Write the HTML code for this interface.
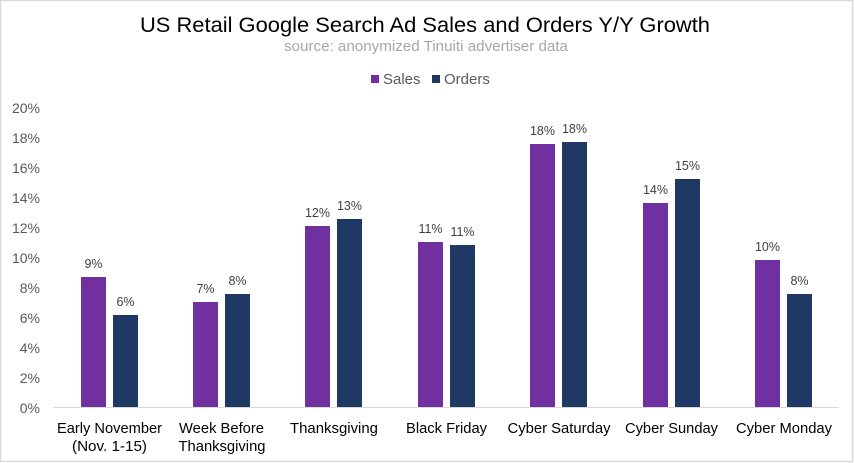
<!DOCTYPE html>
<html><head><meta charset="utf-8"><style>
html,body{margin:0;padding:0;background:#fff;}
svg{display:block;}
text{font-family:"Liberation Sans",Arial,sans-serif;}
</style></head><body>
<svg width="855" height="463" viewBox="0 0 855 463" xmlns="http://www.w3.org/2000/svg">
<rect x="0" y="0" width="855" height="463" fill="#fff"/>
<rect x="0.5" y="0.5" width="852" height="461" fill="#fff" stroke="#d9d9d9" stroke-width="1.5"/>
<text x="425" y="32" text-anchor="middle" font-size="21" fill="#000" textLength="570" lengthAdjust="spacingAndGlyphs">US Retail Google Search Ad Sales and Orders Y/Y Growth</text>
<text x="426" y="51" text-anchor="middle" font-size="14.5" fill="#a6a6a6" textLength="284" lengthAdjust="spacingAndGlyphs">source: anonymized Tinuiti advertiser data</text>
<rect x="371" y="75" width="8" height="8" fill="#7030a0"/>
<text x="383" y="84" font-size="15" fill="#595959">Sales</text>
<rect x="432" y="75" width="8" height="8" fill="#1f3864"/>
<text x="444" y="84" font-size="15" fill="#595959">Orders</text>
<g font-size="14" fill="#595959" text-anchor="end">
<text x="40" y="113">20%</text>
<text x="40" y="143">18%</text>
<text x="40" y="173">16%</text>
<text x="40" y="203">14%</text>
<text x="40" y="233">12%</text>
<text x="40" y="263">10%</text>
<text x="40" y="293">8%</text>
<text x="40" y="323">6%</text>
<text x="40" y="353">4%</text>
<text x="40" y="383">2%</text>
<text x="40" y="413">0%</text>
</g>
<line x1="53" y1="407.5" x2="839" y2="407.5" stroke="#d9d9d9" stroke-width="1"/>
<g>
<rect x="81" y="277" width="25" height="130" fill="#7030a0"/>
<rect x="113" y="315" width="25" height="92" fill="#1f3864"/>
<rect x="193" y="302" width="25" height="105" fill="#7030a0"/>
<rect x="225" y="294" width="25" height="113" fill="#1f3864"/>
<rect x="305" y="226" width="25" height="181" fill="#7030a0"/>
<rect x="337" y="219" width="25" height="188" fill="#1f3864"/>
<rect x="418" y="242" width="25" height="165" fill="#7030a0"/>
<rect x="450" y="245" width="25" height="162" fill="#1f3864"/>
<rect x="530" y="144" width="25" height="263" fill="#7030a0"/>
<rect x="562" y="142" width="25" height="265" fill="#1f3864"/>
<rect x="643" y="203" width="25" height="204" fill="#7030a0"/>
<rect x="675" y="179" width="25" height="228" fill="#1f3864"/>
<rect x="755" y="260" width="25" height="147" fill="#7030a0"/>
<rect x="787" y="294" width="25" height="113" fill="#1f3864"/>
</g>
<g font-size="12.5" fill="#404040" text-anchor="middle">
<text x="93.5" y="268">9%</text>
<text x="125.5" y="306">6%</text>
<text x="205.5" y="293">7%</text>
<text x="237.5" y="285">8%</text>
<text x="317.5" y="217">12%</text>
<text x="349.5" y="210">13%</text>
<text x="430.5" y="233">11%</text>
<text x="462.5" y="236">11%</text>
<text x="542.5" y="135">18%</text>
<text x="574.5" y="133">18%</text>
<text x="655.5" y="194">14%</text>
<text x="687.5" y="170">15%</text>
<text x="767.5" y="251">10%</text>
<text x="799.5" y="285">8%</text>
</g>
<g font-size="15" fill="#000" text-anchor="middle">
<text x="109.5" y="433" textLength="105" lengthAdjust="spacingAndGlyphs">Early November</text>
<text x="109.5" y="451" textLength="75" lengthAdjust="spacingAndGlyphs">(Nov. 1-15)</text>
<text x="221.5" y="433" textLength="85" lengthAdjust="spacingAndGlyphs">Week Before</text>
<text x="222" y="451" textLength="87" lengthAdjust="spacingAndGlyphs">Thanksgiving</text>
<text x="334" y="433" textLength="88" lengthAdjust="spacingAndGlyphs">Thanksgiving</text>
<text x="446.5" y="433" textLength="81" lengthAdjust="spacingAndGlyphs">Black Friday</text>
<text x="559" y="433" textLength="103" lengthAdjust="spacingAndGlyphs">Cyber Saturday</text>
<text x="671.5" y="433" textLength="93" lengthAdjust="spacingAndGlyphs">Cyber Sunday</text>
<text x="784" y="433" textLength="96" lengthAdjust="spacingAndGlyphs">Cyber Monday</text>
</g>
</svg>
</body></html>
